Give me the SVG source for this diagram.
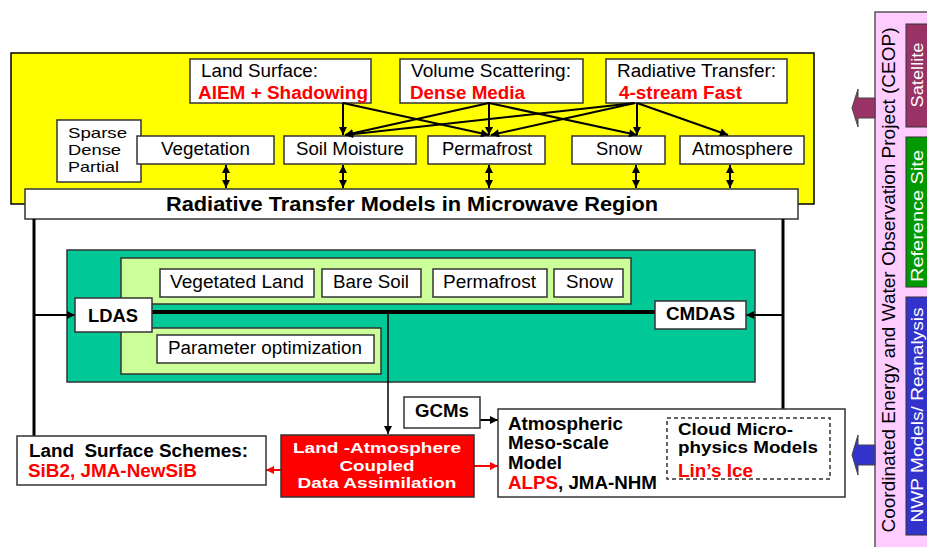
<svg xmlns="http://www.w3.org/2000/svg" width="927" height="547" viewBox="0 0 927 547">
<style>
.t{font-family:"Liberation Sans",Arial,sans-serif;font-size:18px;fill:#000}
.b{font-weight:bold}
.r{fill:#f00}
.w{fill:#fff}
.s15{font-size:15px}
.s155{font-size:15.5px}
.s16{font-size:16px}
.s17{font-size:17px}
.s19{font-size:19px}
.s20{font-size:20px}
.box{fill:#fff;stroke:#333;stroke-width:1.5}
.ln{stroke:#000;stroke-width:2;fill:none}
</style>
<defs>
<marker id="ah" viewBox="0 0 10 10" refX="10" refY="5" markerWidth="9" markerHeight="8" markerUnits="userSpaceOnUse" orient="auto-start-reverse"><path d="M0,0 L10,5 L0,10 z" fill="#000"/></marker>
<marker id="ahr" viewBox="0 0 10 10" refX="10" refY="5" markerWidth="9" markerHeight="8" markerUnits="userSpaceOnUse" orient="auto-start-reverse"><path d="M0,0 L10,5 L0,10 z" fill="#f00"/></marker>
</defs>
<rect width="927" height="547" fill="#fff"/>

<g id="yellow-panel"><rect x="11" y="53" width="803" height="151" fill="#ff0" stroke="#000" stroke-width="1.5"/></g>

<g id="land-surface"><rect class="box" x="190" y="59" width="181" height="44"/>
<text class="t" x="201" y="77" textLength="117" lengthAdjust="spacingAndGlyphs">Land Surface:</text>
<text class="t b r" x="198" y="99" textLength="170" lengthAdjust="spacingAndGlyphs">AIEM + Shadowing</text></g>
<g id="volume-scattering"><rect class="box" x="400" y="59" width="183" height="44"/>
<text class="t" x="411" y="77" textLength="160" lengthAdjust="spacingAndGlyphs">Volume Scattering:</text>
<text class="t b r" x="410" y="99" textLength="115" lengthAdjust="spacingAndGlyphs">Dense Media</text></g>
<g id="radiative-transfer"><rect class="box" x="606" y="59" width="181" height="44"/>
<text class="t" x="617" y="77" textLength="159" lengthAdjust="spacingAndGlyphs">Radiative Transfer:</text>
<text class="t b r" x="619" y="99" textLength="123" lengthAdjust="spacingAndGlyphs">4-stream Fast</text></g>

<g id="sparse"><rect class="box" x="57" y="120" width="84" height="62"/>
<text class="t s15" x="68" y="138" textLength="59" lengthAdjust="spacingAndGlyphs">Sparse</text>
<text class="t s15" x="68" y="155" textLength="53" lengthAdjust="spacingAndGlyphs">Dense</text>
<text class="t s15" x="68" y="172" textLength="51" lengthAdjust="spacingAndGlyphs">Partial</text></g>
<g id="vegetation"><rect class="box" x="137" y="136" width="137" height="28"/>
<text class="t" x="161" y="155" textLength="89" lengthAdjust="spacingAndGlyphs">Vegetation</text></g>
<g id="soil-moisture"><rect class="box" x="284" y="136" width="132" height="28"/>
<text class="t" x="296" y="155" textLength="108" lengthAdjust="spacingAndGlyphs">Soil Moisture</text></g>
<g id="permafrost"><rect class="box" x="428" y="136" width="117" height="28"/>
<text class="t" x="442" y="155" textLength="90" lengthAdjust="spacingAndGlyphs">Permafrost</text></g>
<g id="snow"><rect class="box" x="572" y="136" width="93" height="28"/>
<text class="t" x="596" y="155" textLength="46" lengthAdjust="spacingAndGlyphs">Snow</text></g>
<g id="atmosphere"><rect class="box" x="680" y="136" width="124" height="28"/>
<text class="t" x="692" y="155" textLength="101" lengthAdjust="spacingAndGlyphs">Atmosphere</text></g>

<g id="rtm-bar"><rect class="box" x="25" y="189" width="773" height="30"/>
<text class="t b s20" x="166" y="211" textLength="492" lengthAdjust="spacingAndGlyphs">Radiative Transfer Models in Microwave Region</text></g>

<g id="das-panel"><rect x="67" y="250" width="688" height="132" fill="#00c896" stroke="#333" stroke-width="1.5"/>
<rect x="121" y="258" width="510" height="46" fill="#ccff99" stroke="#333" stroke-width="1.5"/>
<rect x="121" y="328" width="260" height="46" fill="#ccff99" stroke="#333" stroke-width="1.5"/></g>
<g id="vegetated-land"><rect class="box" x="160" y="269" width="154" height="28"/>
<text class="t" x="170" y="288" textLength="134" lengthAdjust="spacingAndGlyphs">Vegetated Land</text></g>
<g id="bare-soil"><rect class="box" x="322" y="269" width="99" height="28"/>
<text class="t" x="333" y="288" textLength="76" lengthAdjust="spacingAndGlyphs">Bare Soil</text></g>
<g id="permafrost2"><rect class="box" x="433" y="269" width="114" height="28"/>
<text class="t" x="443" y="288" textLength="93" lengthAdjust="spacingAndGlyphs">Permafrost</text></g>
<g id="snow2"><rect class="box" x="554" y="269" width="69" height="28"/>
<text class="t" x="566" y="288" textLength="47" lengthAdjust="spacingAndGlyphs">Snow</text></g>
<g id="param-opt"><rect class="box" x="157" y="335" width="217" height="28"/>
<text class="t" x="168" y="354" textLength="194" lengthAdjust="spacingAndGlyphs">Parameter optimization</text></g>

<g id="connectors">
<line class="ln" x1="343" y1="103" x2="343" y2="135" marker-end="url(#ah)"/>
<line class="ln" x1="343" y1="103" x2="489" y2="135" marker-end="url(#ah)"/>
<line class="ln" x1="489" y1="103" x2="345" y2="135" marker-end="url(#ah)"/>
<line class="ln" x1="489" y1="103" x2="489" y2="135" marker-end="url(#ah)"/>
<line class="ln" x1="489" y1="103" x2="637" y2="135" marker-end="url(#ah)"/>
<line class="ln" x1="635" y1="103" x2="345" y2="135" marker-end="url(#ah)"/>
<line class="ln" x1="635" y1="103" x2="491" y2="135" marker-end="url(#ah)"/>
<line class="ln" x1="637" y1="103" x2="637" y2="135" marker-end="url(#ah)"/>
<line class="ln" x1="637" y1="103" x2="728" y2="135" marker-end="url(#ah)"/>
<line class="ln" x1="226" y1="165" x2="226" y2="188" marker-start="url(#ah)" marker-end="url(#ah)"/>
<line class="ln" x1="343" y1="165" x2="343" y2="188" marker-start="url(#ah)" marker-end="url(#ah)"/>
<line class="ln" x1="489" y1="165" x2="489" y2="188" marker-start="url(#ah)" marker-end="url(#ah)"/>
<line class="ln" x1="636" y1="165" x2="636" y2="188" marker-start="url(#ah)" marker-end="url(#ah)"/>
<line class="ln" x1="730" y1="165" x2="730" y2="188" marker-start="url(#ah)" marker-end="url(#ah)"/>
<line x1="34" y1="219" x2="34" y2="436" stroke="#000" stroke-width="3"/>
<line class="ln" x1="34" y1="315" x2="75" y2="315" marker-end="url(#ah)"/>
<line x1="783" y1="219" x2="783" y2="418" stroke="#000" stroke-width="3"/>
<line class="ln" x1="783" y1="315" x2="746" y2="315" marker-end="url(#ah)"/>
<line x1="152" y1="312" x2="655" y2="312" stroke="#000" stroke-width="4"/>
<line x1="388" y1="312" x2="388" y2="434" stroke="#000" stroke-width="1.5" marker-end="url(#ah)"/>
<line class="ln" x1="480" y1="420" x2="498" y2="420" marker-end="url(#ah)"/>
<line x1="281" y1="470" x2="266" y2="470" stroke="#f00" stroke-width="2" marker-end="url(#ahr)"/>
<line x1="474" y1="466" x2="498" y2="466" stroke="#f00" stroke-width="2" marker-end="url(#ahr)"/>
</g>

<g id="ldas"><rect class="box" x="75" y="298" width="77" height="34"/>
<text class="t b" x="88" y="322" textLength="50" lengthAdjust="spacingAndGlyphs">LDAS</text></g>
<g id="cmdas"><rect class="box" x="655" y="301" width="91" height="28"/>
<text class="t b" x="666" y="320" textLength="69" lengthAdjust="spacingAndGlyphs">CMDAS</text></g>

<g id="land-surface-schemes"><rect class="box" x="17" y="436" width="249" height="49"/>
<text class="t b" x="29" y="457" textLength="219" lengthAdjust="spacingAndGlyphs">Land&#160; Surface Schemes:</text>
<text class="t b r" x="28" y="477" textLength="169" lengthAdjust="spacingAndGlyphs">SiB2, JMA-NewSiB</text></g>

<g id="coupled-da"><rect x="281" y="435" width="193" height="62" fill="#f00" stroke="#333" stroke-width="1.5"/>
<text class="t b w s155" x="377" y="453" text-anchor="middle" textLength="168" lengthAdjust="spacingAndGlyphs">Land -Atmosphere</text>
<text class="t b w s155" x="377" y="470.5" text-anchor="middle" textLength="75" lengthAdjust="spacingAndGlyphs">Coupled</text>
<text class="t b w s155" x="377" y="488" text-anchor="middle" textLength="159" lengthAdjust="spacingAndGlyphs">Data Assimilation</text></g>

<g id="gcms"><rect class="box" x="404" y="397" width="76" height="31"/>
<text class="t b" x="415" y="417" textLength="54" lengthAdjust="spacingAndGlyphs">GCMs</text></g>

<g id="atmos-model"><rect class="box" x="498" y="409" width="347" height="88"/>
<text class="t b" x="508" y="430" textLength="115" lengthAdjust="spacingAndGlyphs">Atmospheric</text>
<text class="t b" x="508" y="449" textLength="101" lengthAdjust="spacingAndGlyphs">Meso-scale</text>
<text class="t b" x="508" y="469" textLength="54" lengthAdjust="spacingAndGlyphs">Model</text>
<text class="t b" x="508" y="489" textLength="149" lengthAdjust="spacingAndGlyphs"><tspan class="r">ALPS</tspan>, JMA-NHM</text></g>
<g id="cloud"><rect x="667" y="418" width="163" height="61" fill="#fff" stroke="#333" stroke-width="1.5" stroke-dasharray="4,3"/>
<text class="t b s16" x="678" y="434.5" textLength="115" lengthAdjust="spacingAndGlyphs">Cloud Micro-</text>
<text class="t b s16" x="678" y="453" textLength="140" lengthAdjust="spacingAndGlyphs">physics Models</text>
<text class="t b r" x="678" y="477" textLength="75" lengthAdjust="spacingAndGlyphs">Lin’s Ice</text></g>

<g id="ceop"><rect x="875" y="12" width="60" height="540" fill="#ffccff" stroke="#555" stroke-width="1.5"/>
<text class="t s19" x="895" y="280" text-anchor="middle" transform="rotate(-90 895 280)" textLength="505" lengthAdjust="spacingAndGlyphs">Coordinated Energy and Water Observation Project (CEOP)</text></g>
<g id="satellite"><rect x="906" y="24" width="30" height="103" fill="#993366" stroke="#333" stroke-width="1"/>
<text class="t w s17" x="923" y="75" text-anchor="middle" transform="rotate(-90 923 75)" textLength="65" lengthAdjust="spacingAndGlyphs">Satellite</text></g>
<g id="reference-site"><rect x="906" y="137" width="30" height="150" fill="#009900" stroke="#333" stroke-width="1"/>
<text class="t w s17" x="923" y="216" text-anchor="middle" transform="rotate(-90 923 216)" textLength="132" lengthAdjust="spacingAndGlyphs">Reference Site</text></g>
<g id="nwp"><rect x="906" y="297" width="30" height="238" fill="#3333cc" stroke="#333" stroke-width="1"/>
<text class="t w s17" x="923" y="415" text-anchor="middle" transform="rotate(-90 923 415)" textLength="215" lengthAdjust="spacingAndGlyphs">NWP Models/ Reanalysis</text></g>
<g id="arrow-satellite"><polygon points="875,98 858,98 858,89 852,108 858,127 858,118 875,118" fill="#993366" stroke="#444" stroke-width="1"/></g>
<g id="arrow-nwp"><polygon points="875,445 858,445 858,435 852,455 858,475 858,465 875,465" fill="#3333cc" stroke="#444" stroke-width="1"/></g>
</svg>
